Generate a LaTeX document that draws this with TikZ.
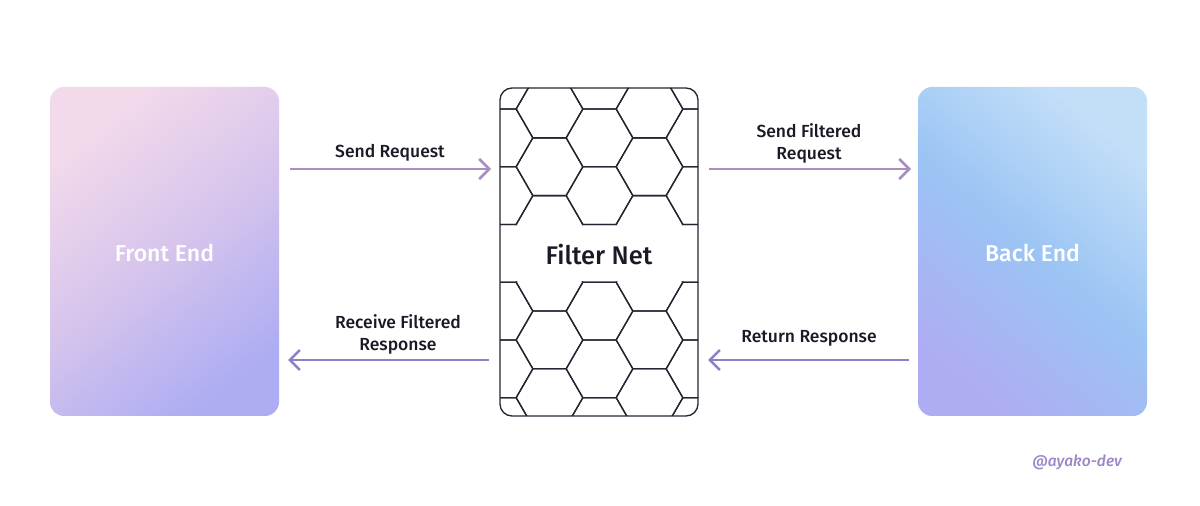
\documentclass[tikz,border=0pt]{standalone}
\usepackage{fontspec}
\setmainfont{Fira Sans}
\newfontfamily\medfont{Fira Sans Medium}
\usetikzlibrary{arrows.meta,calc}
\definecolor{pinkA}{HTML}{F3DAEB}
\definecolor{lavM}{HTML}{D6C4EC}
\definecolor{purpB}{HTML}{AEADF3}
\definecolor{lightBlue}{HTML}{C3DFF8}
\definecolor{midBlue}{HTML}{9BC4F4}
\definecolor{arrTop}{HTML}{AA8EBF}
\definecolor{arrBot}{HTML}{8E80C8}
\definecolor{inkC}{HTML}{1C1826}
\definecolor{hexC}{HTML}{2A2232}
\definecolor{wmC}{HTML}{9A86C8}
\tikzset{
  card/.style={rounded corners=14pt, draw=none},
  flow/.style={line width=2.8pt, -{Straight Barb[length=10pt,width=20pt,line width=2.6pt]}},
  lbl/.style={text=inkC, font=\medfont\fontsize{17.5}{22}\selectfont, align=center},
  hexline/.style={draw=hexC, line width=1.3pt, line join=round},
}
\begin{document}
\begin{tikzpicture}[x=1pt,y=1pt]
\useasboundingbox[fill=white] (0,0) rectangle (1200,506);
% Front End card
\shade[card, top color=pinkA, bottom color=purpB, middle color=lavM, shading angle=38]
  (50,90) rectangle (279,419);
\node[text=white, font=\medfont\fontsize{23}{27}\selectfont] (fe) at (164.5,253) {Front End};
% Back End card
\shade[card, top color=lightBlue, bottom color=purpB, middle color=midBlue, shading angle=-40]
  (918,90) rectangle (1147,419);
\node[text=white, font=\medfont\fontsize{23}{27}\selectfont] (be) at (1032.5,253) {Back End};
% Filter Net
\begin{scope}
  \clip[rounded corners=12pt] (500,90) rectangle (698,418);
  \clip (490,280.8) rectangle (710,430) (490,80) rectangle (710,224.5);
  \foreach \i in {-1,0,1}{
    \foreach \j in {-1,...,5}{
      \draw[hexline] ({599.5+100*\i-33.33},{506-137.87-57.74*\j}) -- ++(16.67,28.87) -- ++(33.33,0) -- ++(16.67,-28.87) -- ++(-16.67,-28.87) -- ++(-33.33,0) -- cycle;
      \draw[hexline] ({549.5+100*\i-33.33},{506-166.74-57.74*\j}) -- ++(16.67,28.87) -- ++(33.33,0) -- ++(16.67,-28.87) -- ++(-16.67,-28.87) -- ++(-33.33,0) -- cycle;
    }
  }
\end{scope}
\draw[hexC, line width=1.3pt, rounded corners=12pt] (500,90) rectangle (698,418);
\node[text=inkC, font=\medfont\fontsize{25.5}{30}\selectfont] (fn) at (599,251) {Filter Net};
% arrow endpoints
\coordinate (a1s) at (290,337);
\coordinate (a1e) at (491,337);
\coordinate (a2s) at (709,337);
\coordinate (a2e) at (911,337);
\coordinate (a3s) at (909,146);
\coordinate (a3e) at (288,146);
\coordinate (a4s) at (489,146);
\coordinate (a4e) at (708,146);
\draw[flow, arrTop] (a1s) -- (a1e);
\draw[flow, arrTop] (a2s) -- (a2e);
\draw[flow, arrBot] (a4s) -- (a3e);
\draw[flow, arrBot] (a3s) -- (a4e);
% labels
\node[lbl] (l1) at (390,353) {Send Request};
\node[lbl] (l2) at (809,363) {Send Filtered\\Request};
\node[lbl] (l3) at (398,171.5) {Receive Filtered\\Response};
\node[lbl] (l4) at (809,168) {Return Response};
% watermark
\node[text=wmC, font=\medfont\itshape\fontsize{15.5}{18}\selectfont] (wm) at (1077,44) {@ayako-dev};
\end{tikzpicture}
\end{document}
